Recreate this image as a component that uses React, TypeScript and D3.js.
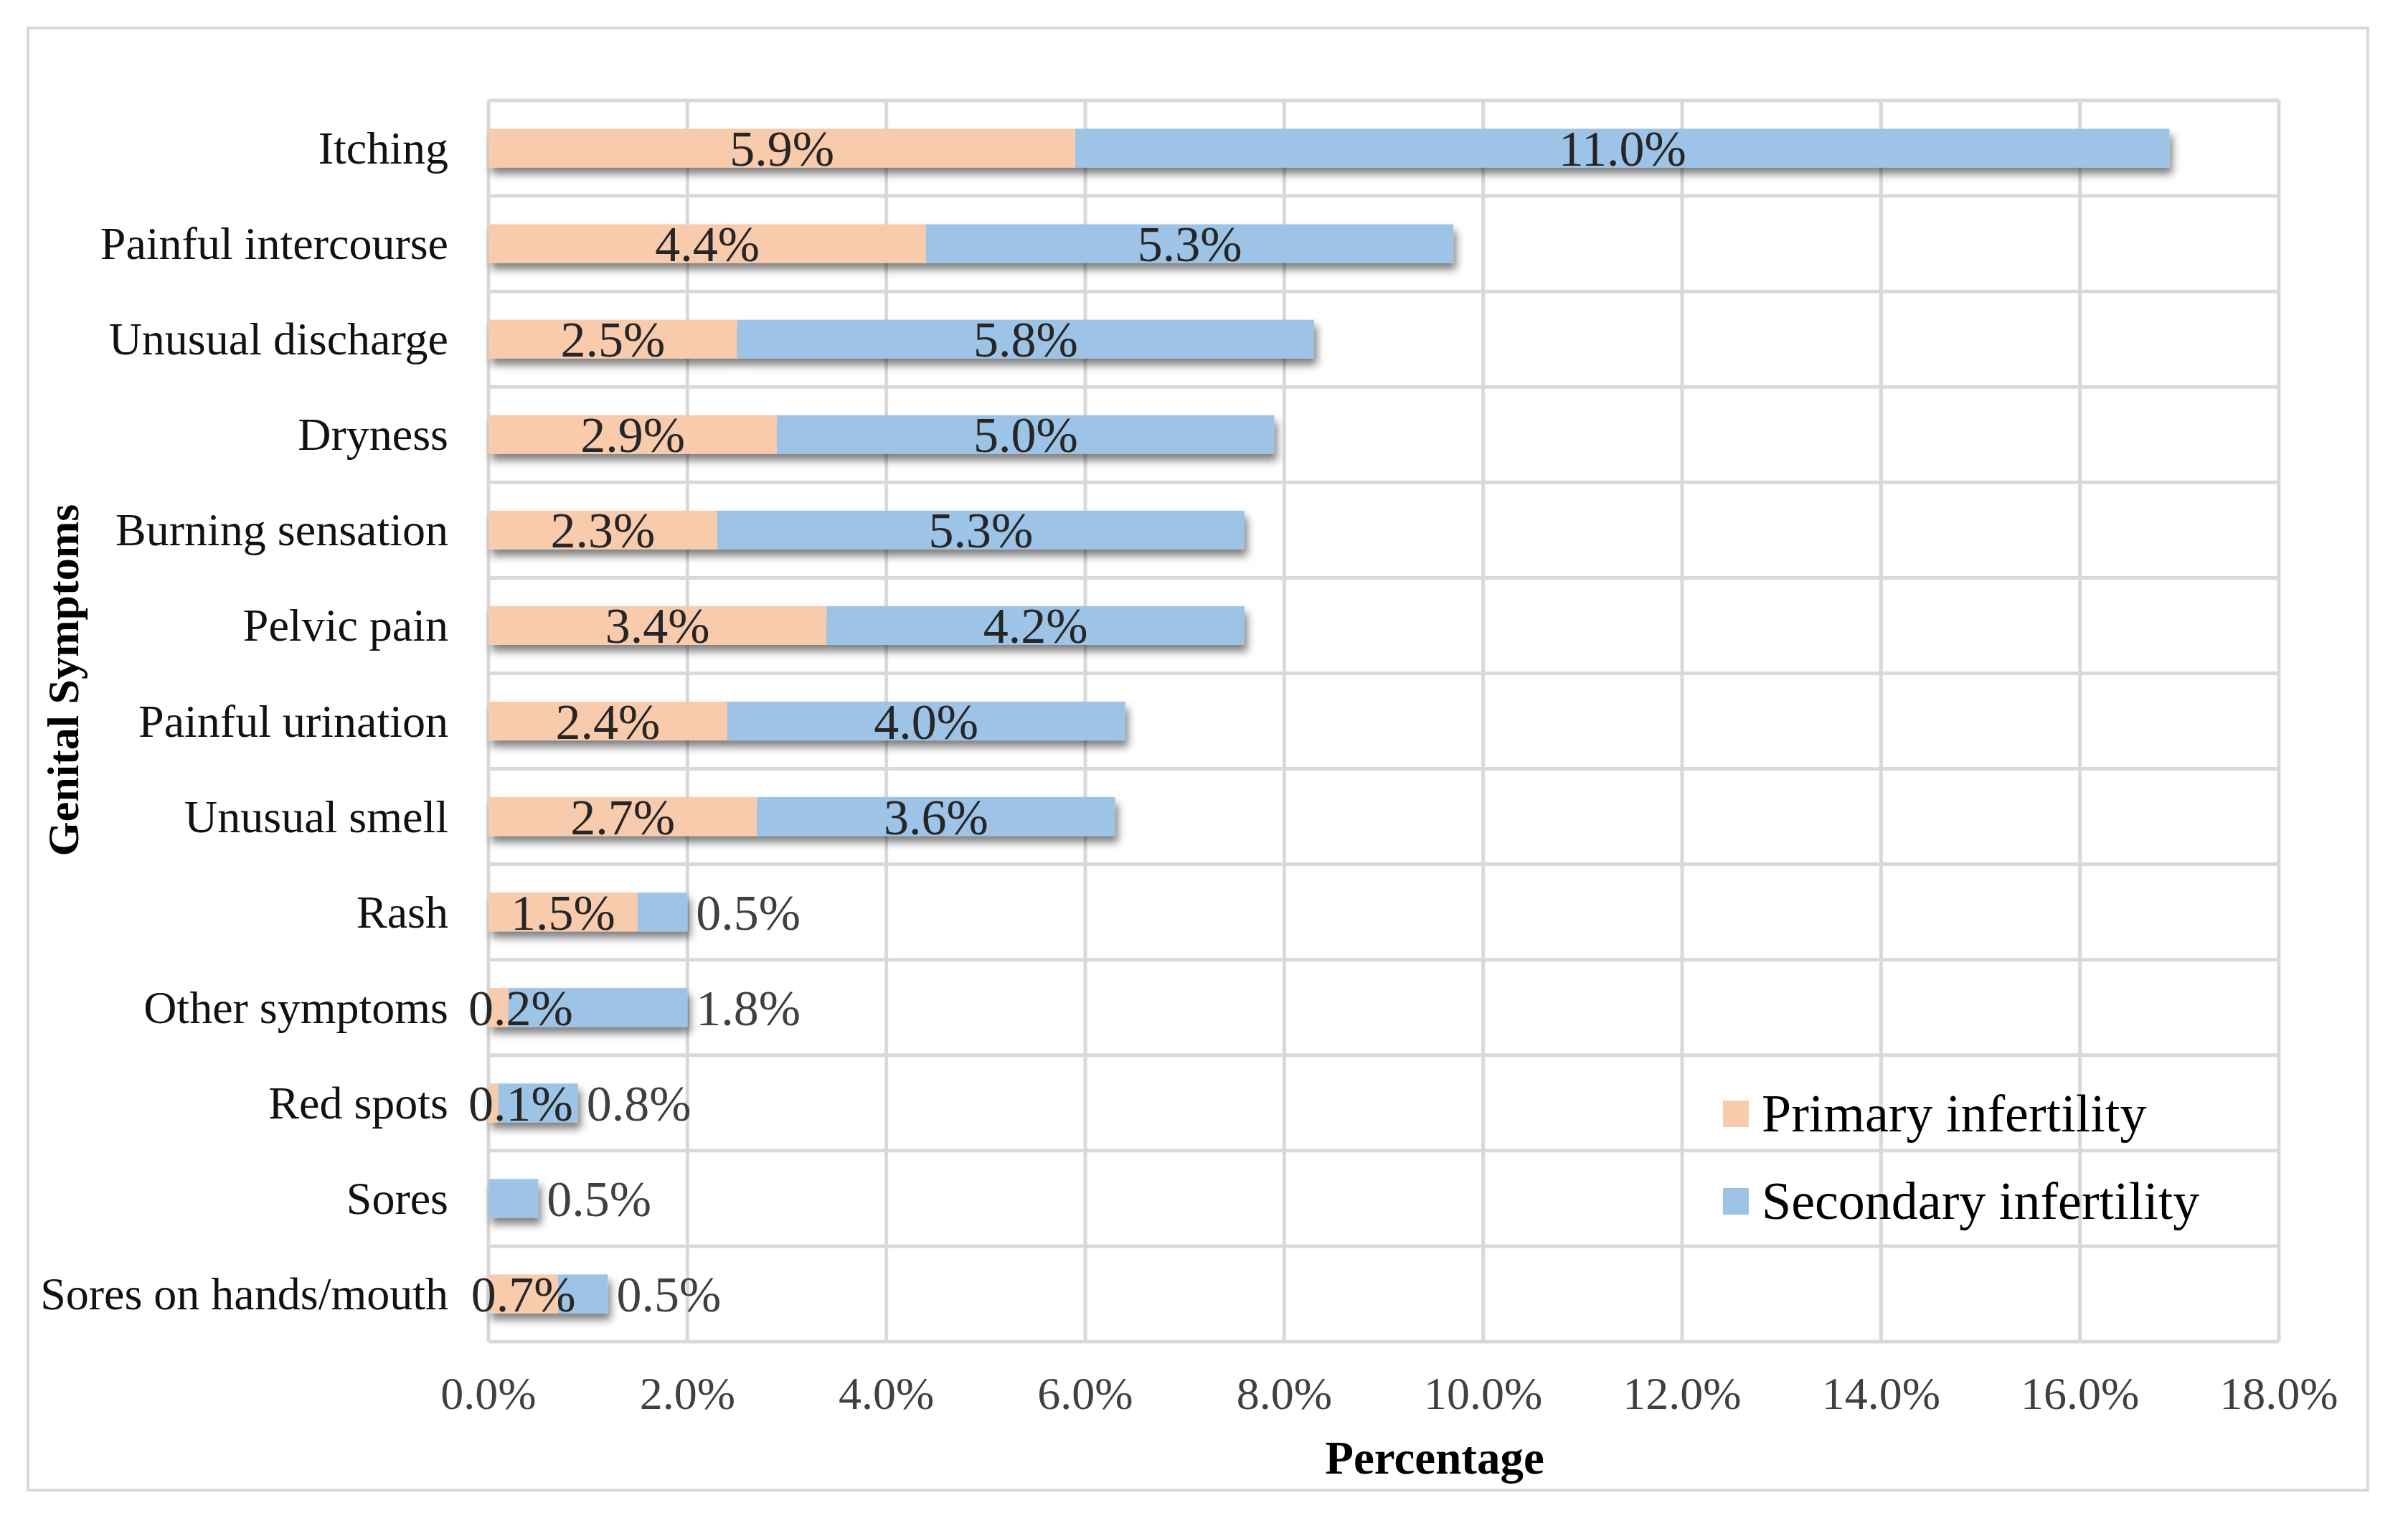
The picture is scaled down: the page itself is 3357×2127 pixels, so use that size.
import * as d3 from "d3";

const categories = [
  "Itching",
  "Painful intercourse",
  "Unusual discharge",
  "Dryness",
  "Burning sensation",
  "Pelvic pain",
  "Painful urination",
  "Unusual smell",
  "Rash",
  "Other symptoms",
  "Red spots",
  "Sores",
  "Sores on hands/mouth",
];
const primary = [5.9, 4.4, 2.5, 2.9, 2.3, 3.4, 2.4, 2.7, 1.5, 0.2, 0.1, 0.0, 0.7];
const secondary = [11.0, 5.3, 5.8, 5.0, 5.3, 4.2, 4.0, 3.6, 0.5, 1.8, 0.8, 0.5, 0.5];
const xTicks = [0, 2, 4, 6, 8, 10, 12, 14, 16, 18];
const seriesNames = ["Primary infertility", "Secondary infertility"];
const seriesColors = ["#F8CBAD", "#9DC3E6"];

const W = 3357;
const H = 2127;
const FONT = "'Liberation Serif', 'Times New Roman', serif";
const GRID = "#d9d9d9";

export default function App() {
  const x = d3.scaleLinear().domain([0, 18]).range([681, 3177]);
  const y = d3.scaleBand<string>().domain(categories).range([140, 1870]).padding(0);
  const step = y.step();
  const barH = step * 0.406;
  const fmt = (v: number) => `${v.toFixed(1)}%`;

  return (
    <svg
      width={W}
      height={H}
      style={{ position: "absolute", left: 0, top: 0, background: "#fff" }}
      fontFamily={FONT}
    >
      <defs>
        <filter id="shadow" x="-10%" y="-40%" width="130%" height="200%">
          <feDropShadow dx="4" dy="9" stdDeviation="6" floodColor="#000" floodOpacity="0.5" />
        </filter>
      </defs>
      <rect x={0} y={0} width={W} height={H} fill="#fff" />
      {/* outer frame */}
      <rect x={39} y={39} width={3262} height={2038} fill="none" stroke={GRID} strokeWidth={4} />

      {/* gridlines */}
      <g stroke={GRID} strokeWidth={5}>
        {xTicks.map((t) => (
          <line key={`v${t}`} x1={x(t)} x2={x(t)} y1={140} y2={1870} />
        ))}
        {[...categories.map((c) => y(c)!), 1870].map((yy, i) => (
          <line key={`h${i}`} x1={x(0)} x2={x(18)} y1={yy} y2={yy} />
        ))}
      </g>

      {/* bars */}
      {categories.map((c, i) => {
        const by = y(c)! + step / 2 - barH / 2;
        return (
          <g key={c} filter="url(#shadow)">
            {primary[i] > 0 && (
              <rect x={x(0)} y={by} width={x(primary[i]) - x(0)} height={barH} fill={seriesColors[0]} />
            )}
            <rect
              x={x(primary[i])}
              y={by}
              width={x(primary[i] + secondary[i]) - x(primary[i])}
              height={barH}
              fill={seriesColors[1]}
            />
          </g>
        );
      })}

      {/* value labels */}
      {categories.map((c, i) => {
        const cy = y(c)! + step / 2 + 1;
        const pMid = Math.max((x(0) + x(primary[i])) / 2, x(0) + 45);
        const end = x(primary[i] + secondary[i]);
        const outside = secondary[i] < 2;
        return (
          <g key={`l${c}`} fontSize={70} dominantBaseline="central">
            {primary[i] > 0 && (
              <text x={pMid} y={cy} textAnchor="middle" fill="#262626">
                {fmt(primary[i])}
              </text>
            )}
            {outside ? (
              <text x={end + 12} y={cy} textAnchor="start" fill="#404040">
                {fmt(secondary[i])}
              </text>
            ) : (
              <text x={(x(primary[i]) + end) / 2} y={cy} textAnchor="middle" fill="#262626">
                {fmt(secondary[i])}
              </text>
            )}
          </g>
        );
      })}

      {/* category labels */}
      <g fontSize={64} fill="#111" textAnchor="end" dominantBaseline="central">
        {categories.map((c) => (
          <text key={`c${c}`} x={625} y={y(c)! + step / 2}>
            {c}
          </text>
        ))}
      </g>

      {/* x tick labels */}
      <g fontSize={64} fill="#404040" textAnchor="middle" dominantBaseline="central">
        {xTicks.map((t) => (
          <text key={`t${t}`} x={x(t)} y={1942}>
            {fmt(t)}
          </text>
        ))}
      </g>

      {/* axis titles */}
      <text x={2000} y={2032} fontSize={65} fontWeight="bold" textAnchor="middle" dominantBaseline="central" fill="#000">
        Percentage
      </text>
      <text
        transform={`translate(88,948) rotate(-90)`}
        fontSize={62}
        fontWeight="bold"
        textAnchor="middle"
        dominantBaseline="central"
        fill="#000"
      >
        Genital Symptoms
      </text>

      {/* legend */}
      {seriesNames.map((name, i) => {
        const ly = 1552 + i * 122;
        return (
          <g key={name}>
            <rect x={2402} y={ly - 18} width={36} height={37} fill={seriesColors[i]} />
            <text x={2456} y={ly} fontSize={74} dominantBaseline="central" fill="#000">
              {name}
            </text>
          </g>
        );
      })}
    </svg>
  );
}
